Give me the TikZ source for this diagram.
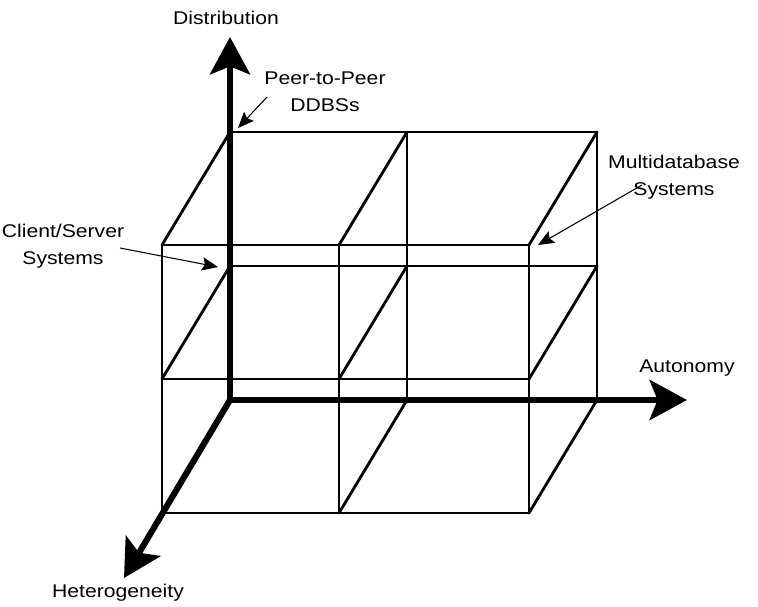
\documentclass[tikz,border=0pt]{standalone}
\usepackage{fontspec}
\setmainfont{Liberation Sans}
\newfontfamily\labfont[FakeStretch=1.15]{Liberation Sans}
\usetikzlibrary{arrows.meta}
\tikzset{
  grid/.style={line width=2.1pt, line cap=round, line join=round},
  axis/.style={line width=4.6pt, -{Stealth[length=28pt,width=30pt,inset=6pt]}},
  callout/.style={line width=0.8pt, -{Stealth[length=12pt,width=10pt,inset=2pt]}},
  lbl/.style={inner sep=0pt, align=center, font=\labfont\fontsize{13.8pt}{20pt}\selectfont}
}
\begin{document}
\begin{tikzpicture}[x=0.75pt,y=-0.75pt]
\useasboundingbox (0,0) rectangle (758,607);
% back face grid points
\foreach \i/\x in {0/230,1/407,2/597}{
  \foreach \j/\y in {0/132,1/266,2/400}{
    \coordinate (B\i\j) at (\x,\y);
    \coordinate (F\i\j) at ({\x-68},{\y+113});
  }
}
% back face
\draw[grid] (B00) -- (B20) (B01) -- (B21) (B10) -- (B12) (B20) -- (B22);
% front face
\draw[grid] (F00) -- (F20) (F01) -- (F21) (F02) -- (F22)
            (F00) -- (F02) (F10) -- (F12) (F20) -- (F22);
% depth edges
\draw[grid] (B00) -- (F00) (B10) -- (F10) (B20) -- (F20)
            (B01) -- (F01) (B11) -- (F11) (B21) -- (F21)
            (B12) -- (F12) (B22) -- (F22);
% axes
\coordinate (O) at (230,400);
\coordinate (distTip) at (230,37);
\coordinate (autTip) at (687,400);
\coordinate (hetTip) at (124,578);
\draw[axis] (O) -- (distTip);
\draw[axis] (O) -- (autTip);
\draw[axis] (O) -- (hetTip);
% labels
\node[lbl] (dist) at (226,18) {Distribution};
\node[lbl] (aut) at (687,368) {Autonomy};
\node[lbl] (het) at (118,593) {Heterogeneity};
\node[lbl] (peer) at (325,92) {Peer-to-Peer\\DDBSs};
\node[lbl] (multi) at (674,177) {Multidatabase\\Systems};
\node[lbl] (client) at (63,246) {Client/Server\\Systems};
% callouts
\coordinate (peerS) at (267,97);
\coordinate (peerT) at (238,128);
\coordinate (multiS) at (642,185);
\coordinate (multiT) at (538,245);
\coordinate (clientS) at (120,248);
\coordinate (clientT) at (218,267);
\draw[callout] (peerS) -- (peerT);
\draw[callout] (multiS) -- (multiT);
\draw[callout] (clientS) -- (clientT);
\end{tikzpicture}
\end{document}
